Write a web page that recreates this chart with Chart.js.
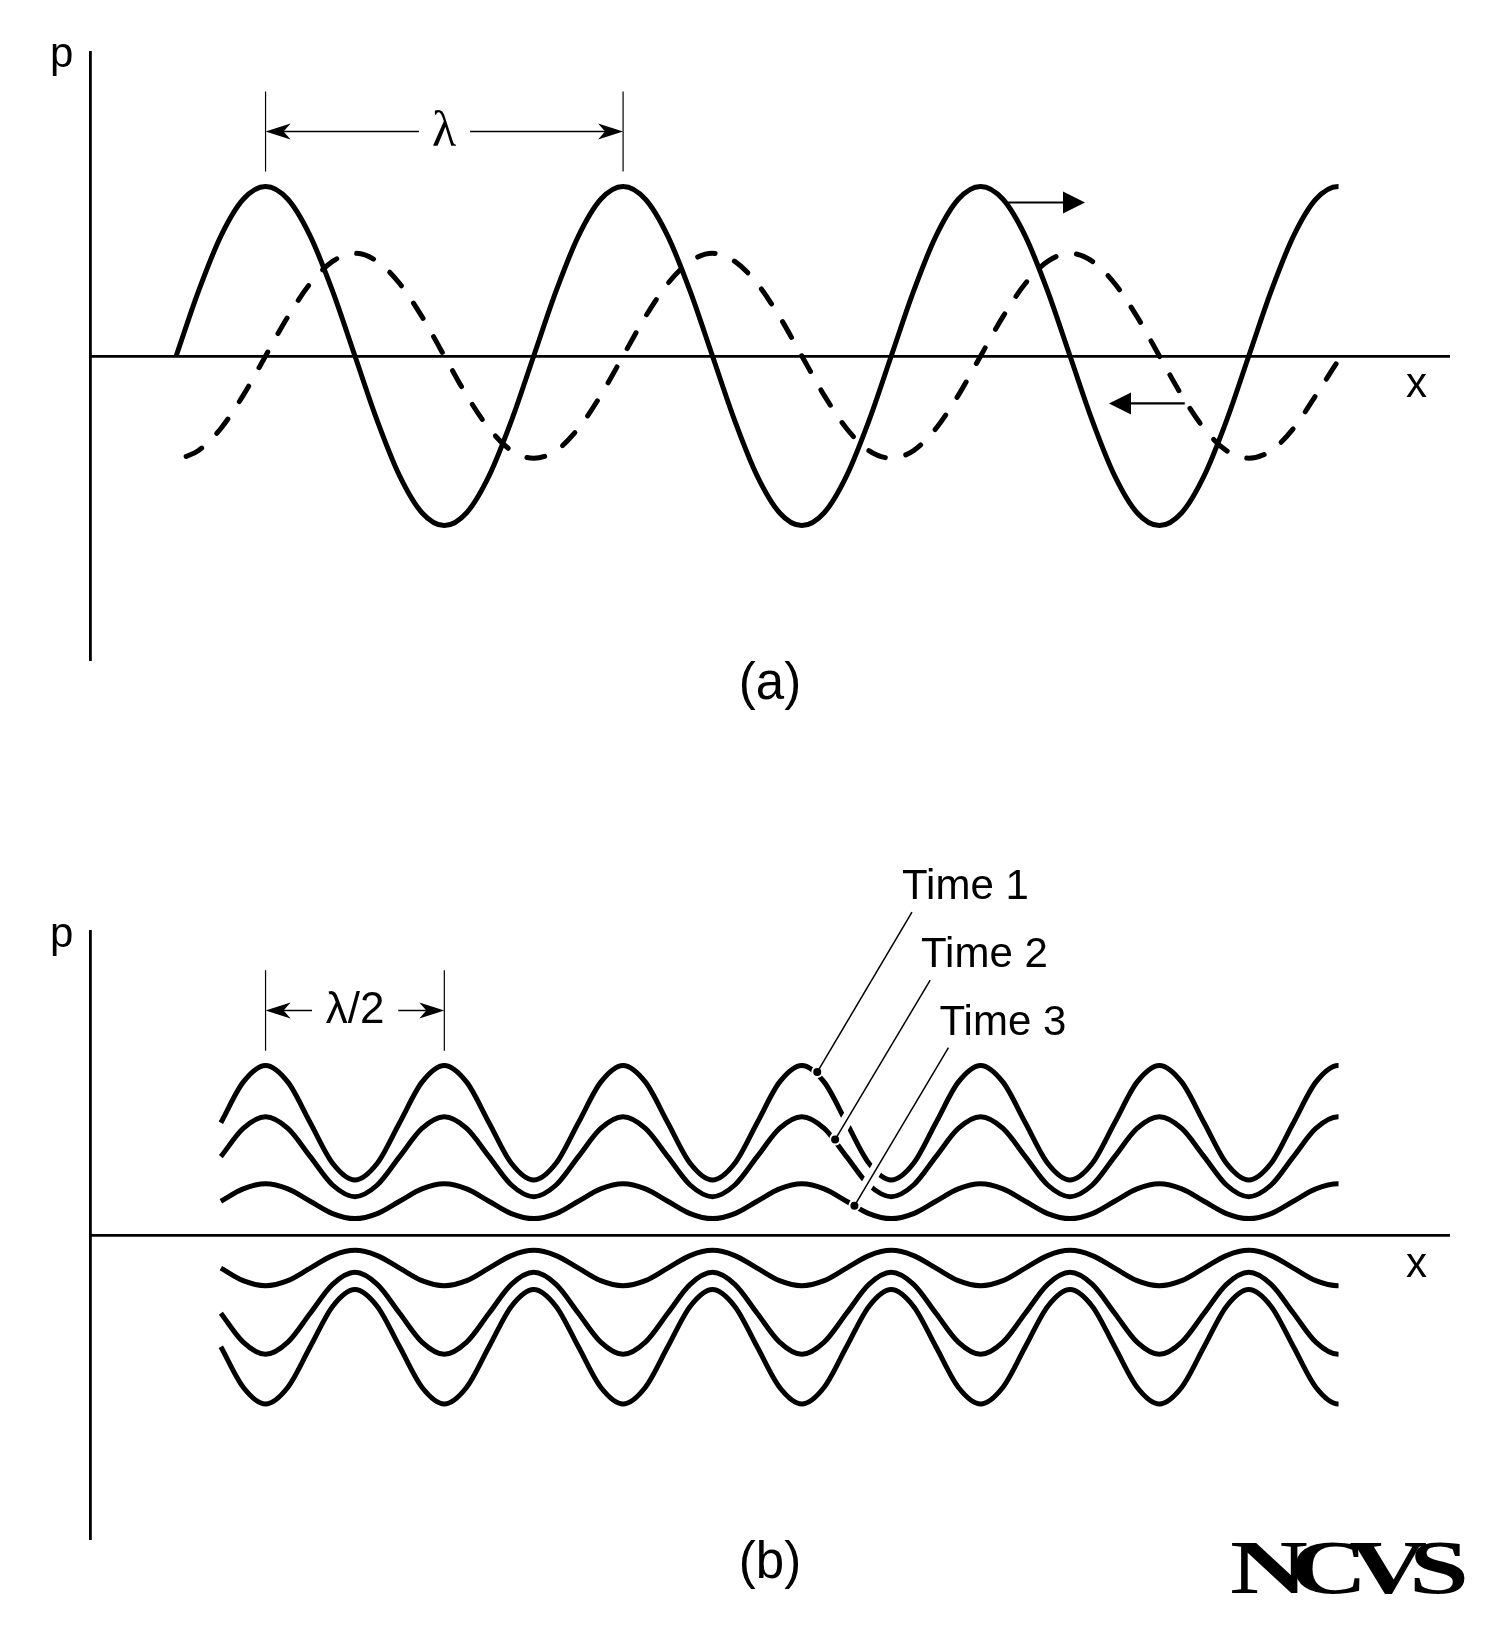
<!DOCTYPE html>
<html>
<head>
<meta charset="utf-8">
<title>Standing waves</title>
<script src="https://cdn.jsdelivr.net/npm/chart.js@4"></script>
<style>
  html, body { margin: 0; padding: 0; background: #fff; }
  canvas { display: block; }
</style>
</head>
<body>
<canvas id="panel-a" width="1500" height="800"></canvas>
<canvas id="panel-b" width="1500" height="829"></canvas>
<script>
// x is in wavelengths, counted from the first crest; p in arbitrary units
// the last x of a solid curve is doubled up so the line ends flat on its crest
const waveX = [-0.25, -0.1875, -0.125, -0.0625,
    0, 0.0625, 0.125, 0.1875, 0.25, 0.3125, 0.375, 0.4375, 0.5, 0.5625, 0.625, 0.6875, 0.75, 0.8125, 0.875, 0.9375,
    1, 1.0625, 1.125, 1.1875, 1.25, 1.3125, 1.375, 1.4375, 1.5, 1.5625, 1.625, 1.6875, 1.75, 1.8125, 1.875, 1.9375,
    2, 2.0625, 2.125, 2.1875, 2.25, 2.3125, 2.375, 2.4375, 2.5, 2.5625, 2.625, 2.6875, 2.75, 2.8125, 2.875, 2.9375,
    3, 3.001];
const solidP = [0, 3.84, 7.10, 9.28,
    10.04, 9.28, 7.10, 3.84, 0, -3.84, -7.10, -9.28, -10.04, -9.28, -7.10, -3.84, 0, 3.84, 7.10, 9.28,
    10.04, 9.28, 7.10, 3.84, 0, -3.84, -7.10, -9.28, -10.04, -9.28, -7.10, -3.84, 0, 3.84, 7.10, 9.28,
    10.04, 9.28, 7.10, 3.84, 0, -3.84, -7.10, -9.28, -10.04, -9.28, -7.10, -3.84, 0, 3.84, 7.10, 9.28,
    10.04, 10.04];
const dashX = [-0.222, -0.1875, -0.125, -0.0625,
    0, 0.0625, 0.125, 0.1875, 0.25, 0.3125, 0.375, 0.4375, 0.5, 0.5625, 0.625, 0.6875, 0.75, 0.8125, 0.875, 0.9375,
    1, 1.0625, 1.125, 1.1875, 1.25, 1.3125, 1.375, 1.4375, 1.5, 1.5625, 1.625, 1.6875, 1.75, 1.8125, 1.875, 1.9375,
    2, 2.0625, 2.125, 2.1875, 2.25, 2.3125, 2.375, 2.4375, 2.5, 2.5625, 2.625, 2.6875, 2.75, 2.8125, 2.875, 2.9375,
    3.008];
const dashP = [-5.95, -5.60, -4.29, -2.33,
    0, 2.33, 4.29, 5.60, 6.08, 5.60, 4.29, 2.33, 0, -2.33, -4.29, -5.60, -6.05, -5.60, -4.29, -2.33,
    0, 2.33, 4.29, 5.60, 6.08, 5.60, 4.29, 2.33, 0, -2.33, -4.29, -5.60, -6.05, -5.60, -4.29, -2.33,
    0, 2.33, 4.29, 5.60, 6.08, 5.60, 4.29, 2.33, 0, -2.33, -4.29, -5.60, -6.05, -5.60, -4.29, -2.33,
    0];

const standX = [-0.125, -0.0625,
    0, 0.0625, 0.125, 0.1875, 0.25, 0.3125, 0.375, 0.4375, 0.5, 0.5625, 0.625, 0.6875, 0.75, 0.8125, 0.875, 0.9375,
    1, 1.0625, 1.125, 1.1875, 1.25, 1.3125, 1.375, 1.4375, 1.5, 1.5625, 1.625, 1.6875, 1.75, 1.8125, 1.875, 1.9375,
    2, 2.0625, 2.125, 2.1875, 2.25, 2.3125, 2.375, 2.4375, 2.5, 2.5625, 2.625, 2.6875, 2.75, 2.8125, 2.875, 2.9375,
    3, 3.001];
const time1Upper = [6.65, 9.05,
    10.04, 9.05, 6.65, 4.25, 3.26, 4.25, 6.65, 9.05, 10.04, 9.05, 6.65, 4.25, 3.26, 4.25, 6.65, 9.05,
    10.04, 9.05, 6.65, 4.25, 3.26, 4.25, 6.65, 9.05, 10.04, 9.05, 6.65, 4.25, 3.26, 4.25, 6.65, 9.05,
    10.04, 9.05, 6.65, 4.25, 3.26, 4.25, 6.65, 9.05, 10.04, 9.05, 6.65, 4.25, 3.26, 4.25, 6.65, 9.05,
    10.04, 10.04];
const time2Upper = [4.64, 6.31,
    7.00, 6.31, 4.64, 2.96, 2.27, 2.96, 4.64, 6.31, 7.00, 6.31, 4.64, 2.96, 2.27, 2.96, 4.64, 6.31,
    7.00, 6.31, 4.64, 2.96, 2.27, 2.96, 4.64, 6.31, 7.00, 6.31, 4.64, 2.96, 2.27, 2.96, 4.64, 6.31,
    7.00, 6.31, 4.64, 2.96, 2.27, 2.96, 4.64, 6.31, 7.00, 6.31, 4.64, 2.96, 2.27, 2.96, 4.64, 6.31,
    7.00, 7.00];
const time3Upper = [2.00, 2.73,
    3.03, 2.73, 2.00, 1.27, 0.97, 1.27, 2.00, 2.73, 3.03, 2.73, 2.00, 1.27, 0.97, 1.27, 2.00, 2.73,
    3.03, 2.73, 2.00, 1.27, 0.97, 1.27, 2.00, 2.73, 3.03, 2.73, 2.00, 1.27, 0.97, 1.27, 2.00, 2.73,
    3.03, 2.73, 2.00, 1.27, 0.97, 1.27, 2.00, 2.73, 3.03, 2.73, 2.00, 1.27, 0.97, 1.27, 2.00, 2.73,
    3.03, 3.03];
const time3Lower = [-1.96, -2.70,
    -3.00, -2.70, -1.96, -1.22, -0.91, -1.22, -1.96, -2.70, -3.00, -2.70, -1.96, -1.22, -0.91, -1.22, -1.96, -2.70,
    -3.00, -2.70, -1.96, -1.22, -0.91, -1.22, -1.96, -2.70, -3.00, -2.70, -1.96, -1.22, -0.91, -1.22, -1.96, -2.70,
    -3.00, -2.70, -1.96, -1.22, -0.91, -1.22, -1.96, -2.70, -3.00, -2.70, -1.96, -1.22, -0.91, -1.22, -1.96, -2.70,
    -3.00, -3.00];
const time2Lower = [-4.63, -6.34,
    -7.06, -6.34, -4.63, -2.92, -2.21, -2.92, -4.63, -6.34, -7.06, -6.34, -4.63, -2.92, -2.21, -2.92, -4.63, -6.34,
    -7.06, -6.34, -4.63, -2.92, -2.21, -2.92, -4.63, -6.34, -7.06, -6.34, -4.63, -2.92, -2.21, -2.92, -4.63, -6.34,
    -7.06, -6.34, -4.63, -2.92, -2.21, -2.92, -4.63, -6.34, -7.06, -6.34, -4.63, -2.92, -2.21, -2.92, -4.63, -6.34,
    -7.06, -7.06];
const time1Lower = [-6.62, -9.01,
    -10.00, -9.01, -6.62, -4.23, -3.23, -4.23, -6.62, -9.01, -10.00, -9.01, -6.62, -4.23, -3.23, -4.23, -6.62, -9.01,
    -10.00, -9.01, -6.62, -4.23, -3.23, -4.23, -6.62, -9.01, -10.00, -9.01, -6.62, -4.23, -3.23, -4.23, -6.62, -9.01,
    -10.00, -9.01, -6.62, -4.23, -3.23, -4.23, -6.62, -9.01, -10.00, -9.01, -6.62, -4.23, -3.23, -4.23, -6.62, -9.01,
    -10.00, -10.00];

const timeLabels = ['Time 1', 'Time 2', 'Time 3'];
const calloutX = [1.543, 1.593, 1.647];
const calloutP = [9.65, 5.65, 1.73];
const calloutEndX = [1.808, 1.859, 1.910];
const calloutEndP = [19.12, 15.09, 11.09];

const SANS = '"Liberation Sans", Arial, sans-serif';
const SERIF = '"Liberation Serif", serif';
const labelLeft = [902, 921, 939.5];
const labelBase = [99, 166.7, 234.8];

function points(xs, ys) {
    return xs.map((x, i) => ({ x: x, y: ys[i] }));
}

function curve(xs, ys, extra) {
    return Object.assign({
        data: points(xs, ys),
        borderColor: '#000',
        borderWidth: 5,
        borderCapStyle: 'butt',
        borderJoinStyle: 'round',
        cubicInterpolationMode: 'monotone',
        pointRadius: 0,
        fill: false
    }, extra || {});
}

function chartOptions(padding) {
    return {
        responsive: false,
        animation: false,
        devicePixelRatio: 1,
        layout: { padding: padding },
        plugins: { legend: { display: false }, tooltip: { enabled: false } },
        scales: {
            x: {
                type: 'linear',
                min: -0.491,
                max: 3.31,
                position: { y: 0 },
                grid: { display: false, drawTicks: false },
                ticks: { display: false },
                border: { display: true, color: '#000', width: 2.8 }
            },
            y: {
                type: 'linear',
                min: -18,
                max: 18,
                position: 'left',
                grid: { display: false, drawTicks: false },
                ticks: { display: false },
                border: { display: true, color: '#000', width: 2.8 }
            }
        }
    };
}

function text(ctx, str, x, y, font, align) {
    ctx.font = font;
    ctx.textAlign = align || 'left';
    ctx.textBaseline = 'alphabetic';
    ctx.fillStyle = '#000';
    ctx.fillText(str, x, y);
}

function segment(ctx, x1, y1, x2, y2, width) {
    ctx.beginPath();
    ctx.moveTo(x1, y1);
    ctx.lineTo(x2, y2);
    ctx.lineWidth = width;
    ctx.strokeStyle = '#000';
    ctx.stroke();
}

// thin dimension arrow head, tip at (x, y), dir = 1 points right
function sharpHead(ctx, x, y, dir) {
    ctx.beginPath();
    ctx.moveTo(x, y);
    ctx.lineTo(x - dir * 25, y - 8);
    ctx.lineTo(x - dir * 18, y);
    ctx.lineTo(x - dir * 25, y + 8);
    ctx.closePath();
    ctx.fillStyle = '#000';
    ctx.fill();
}

function solidHead(ctx, x, y, dir) {
    ctx.beginPath();
    ctx.moveTo(x, y);
    ctx.lineTo(x - dir * 22, y - 11);
    ctx.lineTo(x - dir * 22, y + 11);
    ctx.closePath();
    ctx.fillStyle = '#000';
    ctx.fill();
}

// vertical ticks at two crests plus the arrow between them, with a gap for the label
function dimension(chart, xFrom, xTo, gapFrom, gapTo, pLow, pHigh, pArrow) {
    const ctx = chart.ctx;
    const sx = chart.scales.x, sy = chart.scales.y;
    const left = sx.getPixelForValue(xFrom), right = sx.getPixelForValue(xTo);
    const low = sy.getPixelForValue(pLow), high = sy.getPixelForValue(pHigh);
    const mid = sy.getPixelForValue(pArrow);
    segment(ctx, left, low, left, high, 1.2);
    segment(ctx, right, low, right, high, 1.2);
    segment(ctx, left + 10, mid, sx.getPixelForValue(gapFrom), mid, 1.5);
    segment(ctx, sx.getPixelForValue(gapTo), mid, right - 10, mid, 1.5);
    sharpHead(ctx, left, mid, -1);
    sharpHead(ctx, right, mid, 1);
}

const panelAMarks = {
    id: 'panelAMarks',
    afterDraw(chart) {
        const ctx = chart.ctx;
        const sx = chart.scales.x, sy = chart.scales.y;
        ctx.save();
        dimension(chart, 0, 1, 0.429, 0.572, 10.92, 15.66, 13.29);

        // direction of travel
        const upY = sy.getPixelForValue(9.09);
        segment(ctx, sx.getPixelForValue(2.077), upY, sx.getPixelForValue(2.24), upY, 2.2);
        solidHead(ctx, sx.getPixelForValue(2.292), upY, 1);
        const downY = sy.getPixelForValue(-2.81);
        segment(ctx, sx.getPixelForValue(2.571), downY, sx.getPixelForValue(2.41), downY, 2.2);
        solidHead(ctx, sx.getPixelForValue(2.359), downY, -1);

        text(ctx, 'p', 50, 67, '42px ' + SANS);
        text(ctx, 'x', 1406, 397, '42px ' + SANS);
        text(ctx, 'λ', 444, 146, '50px ' + SERIF, 'center');
        text(ctx, '(a)', 770, 699, '51px ' + SANS, 'center');
        ctx.restore();
    }
};

const panelBMarks = {
    id: 'panelBMarks',
    afterDraw(chart) {
        const ctx = chart.ctx;
        const sx = chart.scales.x, sy = chart.scales.y;
        ctx.save();
        dimension(chart, 0, 0.5, 0.130, 0.371, 10.91, 15.68, 13.29);

        ctx.lineCap = 'round';
        timeLabels.forEach((label, i) => {
            const x1 = sx.getPixelForValue(calloutX[i]), y1 = sy.getPixelForValue(calloutP[i]);
            const x2 = sx.getPixelForValue(calloutEndX[i]), y2 = sy.getPixelForValue(calloutEndP[i]);
            // white halo breaks the curves where the leader passes
            ctx.beginPath();
            ctx.moveTo(x1, y1);
            ctx.lineTo(x2, y2);
            ctx.lineWidth = 12;
            ctx.strokeStyle = '#fff';
            ctx.stroke();
        });
        ctx.lineCap = 'butt';
        timeLabels.forEach((label, i) => {
            const x1 = sx.getPixelForValue(calloutX[i]), y1 = sy.getPixelForValue(calloutP[i]);
            const x2 = sx.getPixelForValue(calloutEndX[i]), y2 = sy.getPixelForValue(calloutEndP[i]);
            segment(ctx, x1, y1, x2, y2, 1.5);
            ctx.beginPath();
            ctx.arc(x1, y1, 4, 0, Math.PI * 2);
            ctx.fillStyle = '#000';
            ctx.fill();
            text(ctx, label, labelLeft[i], labelBase[i], '42px ' + SANS);
        });

        text(ctx, 'p', 50, 147, '42px ' + SANS);
        text(ctx, 'x', 1406, 476.5, '42px ' + SANS);
        text(ctx, 'λ/2', 355, 223, '44px ' + SANS, 'center');
        text(ctx, '(b)', 770, 778, '51px ' + SANS, 'center');

        // stretched, overlapped letters for the wordmark
        ctx.save();
        ctx.translate(1230, 793);
        ctx.scale(1.4, 1);
        ctx.letterSpacing = '-13px';
        text(ctx, 'NCVS', 0, 0, 'bold 77px ' + SERIF);
        ctx.restore();
        ctx.restore();
    }
};

new Chart(document.getElementById('panel-a'), {
    type: 'line',
    data: {
        datasets: [
            curve(waveX, solidP),
            curve(dashX, dashP, { borderDash: [18, 21], borderCapStyle: 'round' })
        ]
    },
    options: chartOptions({ left: 90, right: 51, top: 52, bottom: 140 }),
    plugins: [panelAMarks]
});

new Chart(document.getElementById('panel-b'), {
    type: 'line',
    data: {
        datasets: [
            curve(standX, time1Upper),
            curve(standX, time2Upper),
            curve(standX, time3Upper),
            curve(standX, time3Lower),
            curve(standX, time2Lower),
            curve(standX, time1Lower)
        ]
    },
    options: chartOptions({ left: 90, right: 51, top: 131, bottom: 90 }),
    plugins: [panelBMarks]
});
</script>
</body>
</html>
